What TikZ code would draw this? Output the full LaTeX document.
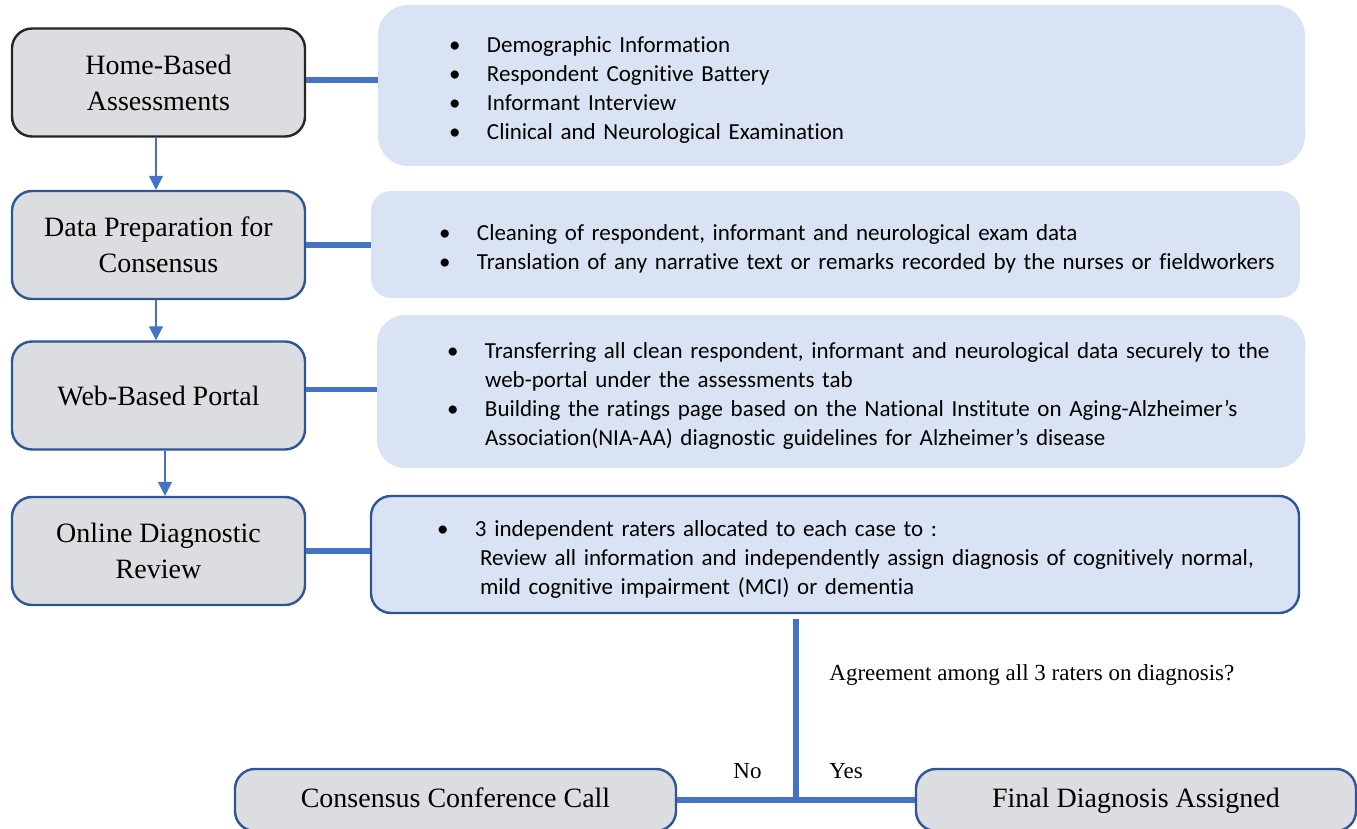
\documentclass[tikz,border=0pt]{standalone}
\usepackage{fontspec}
\setmainfont{Liberation Serif}
\newfontfamily\notefont{Carlito}[Ligatures=NoCommon]
\usetikzlibrary{arrows.meta}

\definecolor{stagegray}{HTML}{DCDDE0}
\definecolor{notefill}{HTML}{DAE3F3}
\definecolor{linkblue}{HTML}{4472C4}
\definecolor{edgeblue}{HTML}{2F5597}

\newcommand{\pt}[1]{\mbox{\makebox[19pt][l]{\textbullet}#1}}
\newcommand{\cont}[1]{\mbox{\hspace*{19pt}#1}}

\begin{document}
\begin{tikzpicture}[
    x=0.5pt, y=-0.5pt,
    stage/.style={draw=edgeblue, fill=stagegray, line width=1.2pt,
      rounded corners=10pt, minimum width=146.5pt, minimum height=54pt,
      align=center, font=\fontsize{14}{18}\selectfont},
    note/.style={fill=notefill, rounded corners=10pt, align=left,
      anchor=center, font=\notefont\fontsize{11.5}{14.5}\selectfont,
      execute at begin node={\rule{0pt}{12.5pt}}},
    link/.style={linkblue, line width=2.75pt},
    flow/.style={linkblue, line width=0.7pt, -{Triangle[length=7pt,width=7pt]}},
    label/.style={font=\fontsize{11.5}{13}\selectfont, anchor=base west, inner sep=0pt}
  ]
  \path[use as bounding box, clip] (0,0) rectangle (1357,829);

  % steps on the left
  \node[stage, draw=black!85] (home) at (158.5,82.5) {Home-Based\\Assessments};
  \node[stage] (prep) at (158.5,245) {Data Preparation for\\Consensus};
  \node[stage] (web) at (158.5,395.5) {Web-Based Portal};
  \node[stage] (review) at (158.5,551) {Online Diagnostic\\Review};

  % notes on the right
  \node[note, rounded corners=15pt, minimum width=463.5pt, minimum height=80.5pt,
    inner xsep=35.5pt, text width=392.5pt] (homenote) at (841.5,85.5)
    {\pt{Demographic Information}\\
     \pt{Respondent Cognitive Battery}\\
     \pt{Informant Interview}\\
     \pt{Clinical and Neurological Examination}};
  \node[note, minimum width=464.5pt, minimum height=53.5pt,
    inner xsep=34pt, text width=396.5pt] (prepnote) at (835.5,244.5)
    {\pt{Cleaning of respondent, informant and neurological exam data}\\
     \pt{Translation of any narrative text or remarks recorded by the nurses or fieldworkers}};
  \node[note, rounded corners=14pt, minimum width=464pt, minimum height=76.5pt,
    inner xsep=35pt, text width=394pt] (webnote) at (841,391.5)
    {\pt{Transferring all clean respondent, informant and neurological data securely to the}\\
     \cont{web-portal under the assessments tab}\\
     \pt{Building the ratings page based on the National Institute on Aging-Alzheimer’s}\\
     \cont{Association(NIA-AA) diagnostic guidelines for Alzheimer’s disease}};
  \node[note, draw=edgeblue, line width=1.2pt, minimum width=464pt, minimum height=58.5pt,
    inner xsep=33pt, text width=398pt] (reviewnote) at (835,554.5)
    {\pt{3 independent raters allocated to each case to :}\\
     \cont{\hspace{2.5pt}Review all information and independently assign diagnosis of cognitively normal,}\\
     \cont{\hspace{2.5pt}mild cognitive impairment (MCI) or dementia}};

  % outcomes
  \node[stage, minimum width=220.5pt, minimum height=31pt, text height=10pt, text depth=3pt]
    (consensus) at (455.5,800) {Consensus Conference Call};
  \node[stage, minimum width=220pt, minimum height=31pt, text height=10pt, text depth=3pt]
    (final) at (1136,800) {Final Diagnosis Assigned};

  \draw[flow] ([xshift=-1.25pt]home.south) -- ([xshift=-1.25pt]prep.north);
  \draw[flow] ([xshift=-1.25pt]prep.south) -- ([xshift=-1.25pt]web.north);
  \draw[flow] ([xshift=3.25pt]web.south) -- ([xshift=3.25pt]review.north);

  \draw[link] ([yshift=1.25pt]home.east) -- ([yshift=1.25pt]home.east -| homenote.west);
  \draw[link] (prep.east) -- (prep.east -| prepnote.west);
  \draw[link] ([yshift=3pt]web.east) -- ([yshift=3pt]web.east -| webnote.west);
  \draw[link] (review.east) -- (review.east -| reviewnote.west);

  \coordinate (ask) at (796,619);
  \draw[link] (ask) -- (ask |- consensus.east);
  \draw[link] (consensus.east) -- (final.west);

  \node[label] (question) at (829,680) {Agreement among all 3 raters on diagnosis?};
  \node[label] (no) at (733,778) {No};
  \node[label] (yes) at (829,778) {Yes};
\end{tikzpicture}
\end{document}
